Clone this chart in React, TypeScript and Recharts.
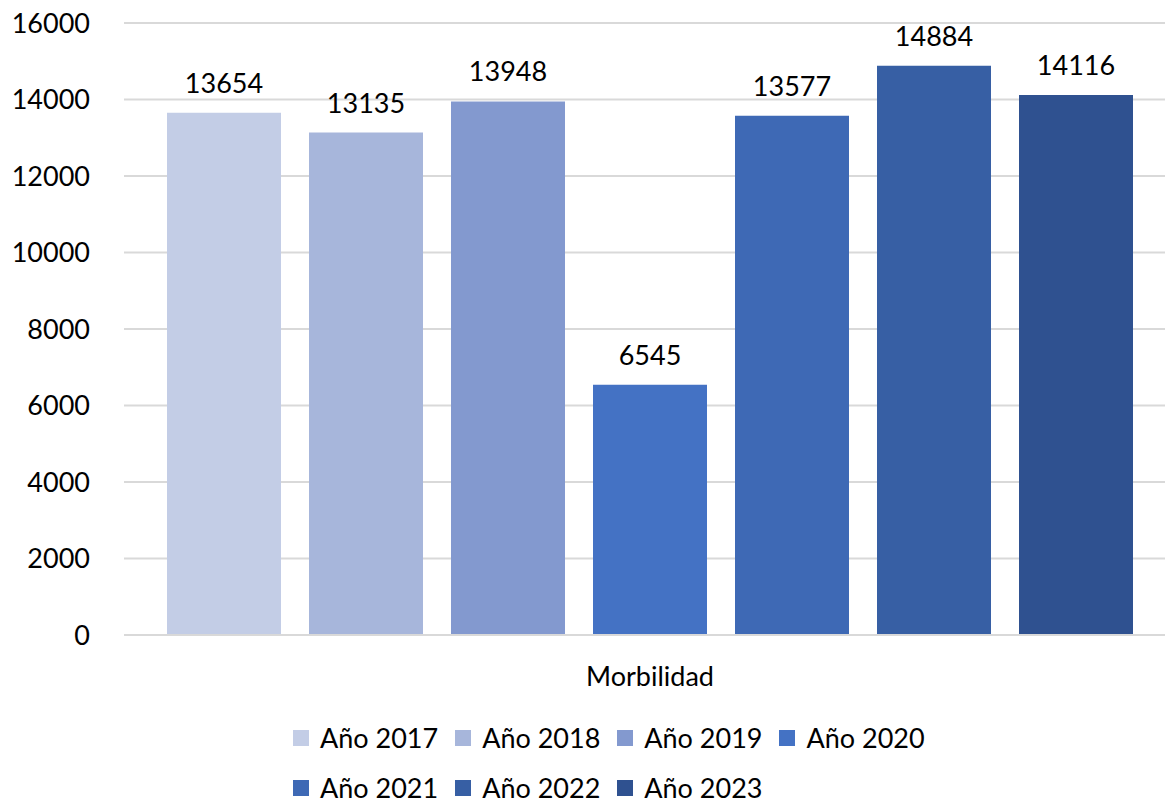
import { BarChart, Bar, XAxis, YAxis, CartesianGrid, Legend, LabelList } from "recharts"

const categories = ["Morbilidad"]
const seriesNames = ["Año 2017", "Año 2018", "Año 2019", "Año 2020", "Año 2021", "Año 2022", "Año 2023"]
const seriesValues = [13654, 13135, 13948, 6545, 13577, 14884, 14116]
const yTicks = [0, 2000, 4000, 6000, 8000, 10000, 12000, 14000, 16000]

const COLORS = ["#C3CDE6", "#A7B6DB", "#8399CF", "#4472C4", "#3E69B5", "#375FA4", "#2F5190"]

const FONT = "Lato, 'Noto Sans', sans-serif"

const data = categories.map((name) => {
  const row: Record<string, string | number> = { name }
  seriesNames.forEach((s, i) => {
    row[s] = seriesValues[i]
  })
  return row
})

// two rows, left aligned like the original legend
function LegendRows() {
  return (
    <div
      style={{
        width: 660,
        marginLeft: 293,
        display: "flex",
        flexWrap: "wrap",
        rowGap: 20,
        fontFamily: FONT,
        fontSize: 27,
        lineHeight: "30px",
        color: "#000",
      }}
    >
      {seriesNames.map((s, i) => (
        <div key={s} style={{ display: "flex", alignItems: "center", marginRight: 17, height: 30 }}>
          <span style={{ width: 16, height: 16, background: COLORS[i], display: "inline-block", marginRight: 11 }} />
          <span>{s}</span>
        </div>
      ))}
    </div>
  )
}

export default function App() {
  return (
    <div style={{ position: "absolute", left: 0, top: 0, width: 1165, height: 806, background: "#fff" }}>
      <BarChart
        width={1165}
        height={806}
        data={data}
        margin={{ top: 23, right: 0, left: 0, bottom: 61 }}
        barGap={28}
      >
        <CartesianGrid vertical={false} stroke="#D9D9D9" strokeWidth={2} />
        <XAxis
          dataKey="name"
          height={30}
          padding={{ left: 11, right: 0 }}
          axisLine={{ stroke: "#D9D9D9", strokeWidth: 2 }}
          tickLine={false}
          tickSize={0}
          tickMargin={32}
          tick={{ fontFamily: FONT, fontSize: 27, fill: "#000" }}
        />
        <YAxis
          width={124}
          domain={[0, 16000]}
          ticks={yTicks}
          axisLine={false}
          tickLine={false}
          tickSize={0}
          tickMargin={34}
          interval={0}
          tick={{ fontFamily: FONT, fontSize: 27, fill: "#000" }}
        />
        {seriesNames.map((s, i) => (
          <Bar key={s} dataKey={s} fill={COLORS[i]} barSize={114} isAnimationActive={false}>
            <LabelList
              dataKey={s}
              position="top"
              offset={20}
              style={{ fontFamily: FONT, fontSize: 27, fill: "#000" }}
            />
          </Bar>
        ))}
        <Legend
          content={() => <LegendRows />}
          wrapperStyle={{ position: "absolute", left: 0, top: 723, width: 1165 }}
        />
      </BarChart>
    </div>
  )
}
